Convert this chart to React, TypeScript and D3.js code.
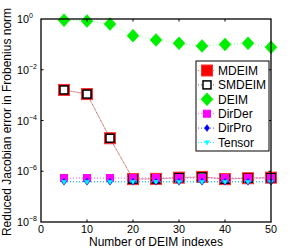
import React from "react";
import * as d3 from "d3";

const nIdx = [5, 10, 15, 20, 25, 30, 35, 40, 45, 50];
const mdeim = [1.6e-3, 1.1e-3, 2e-5, 4.9e-7, 5e-7, 5.6e-7, 6e-7, 4.9e-7, 5.3e-7, 5.6e-7];
const smdeim = [1.6e-3, 1.1e-3, 2e-5, 4.9e-7, 5e-7, 5.6e-7, 6e-7, 4.9e-7, 5.3e-7, 5.6e-7];
const deim = [0.9, 0.83, 0.63, 0.22, 0.15, 0.11, 0.087, 0.1, 0.11, 0.077];
const dirDer = [5.4e-7, 5.4e-7, 5.4e-7, 5.4e-7, 5.4e-7, 5.4e-7, 5.4e-7, 5.4e-7, 5.4e-7, 5.4e-7];
const dirPro = [3.9e-7, 3.9e-7, 3.9e-7, 3.9e-7, 3.9e-7, 3.9e-7, 3.9e-7, 3.9e-7, 3.9e-7, 3.9e-7];
const tensor = [3.8e-7, 3.8e-7, 3.8e-7, 3.8e-7, 3.8e-7, 3.8e-7, 3.8e-7, 3.8e-7, 3.8e-7, 3.8e-7];
const xTicks = [0, 10, 20, 30, 40, 50];
const yExps = [0, -2, -4, -6, -8];
const legendNames = ["MDEIM", "SMDEIM", "DEIM", "DirDer", "DirPro", "Tensor"];

const left = 41, right = 271, top = 19, bottom = 222;
const font = "Liberation Sans, Arial, sans-serif";

const x = d3.scaleLinear().domain([0, 50]).range([left, right]);
const y = d3.scaleLog().domain([1e-8, 1]).range([bottom, top]);

type Marker = (cx: number, cy: number, key: string | number) => React.ReactNode;

const square = (s: number, fill: string, stroke: string, sw: number): Marker => (cx, cy, key) => (
  <rect key={key} x={cx - s / 2} y={cy - s / 2} width={s} height={s} fill={fill} stroke={stroke} strokeWidth={sw} />
);
const diamond = (w: number, h: number, color: string): Marker => (cx, cy, key) => (
  <path key={key} d={`M${cx},${cy - h / 2}L${cx + w / 2},${cy}L${cx},${cy + h / 2}L${cx - w / 2},${cy}Z`} fill={color} stroke={color} strokeWidth={0.5} />
);
const triDown = (s: number, color: string): Marker => (cx, cy, key) => (
  <path key={key} d={`M${cx - s / 2},${cy - s / 3}L${cx + s / 2},${cy - s / 3}L${cx},${cy + s / 2}Z`} fill={color} stroke={color} strokeWidth={0.5} />
);

const series = [
  { name: legendNames[0], vals: mdeim, line: "#ff5050", dash: "1,2", off: 0, marker: square(11, "#ff0000", "#ff3030", 1) },
  { name: legendNames[1], vals: smdeim, line: "#704040", dash: "1,2", off: 1.5, marker: square(8, "#ffffff", "#000000", 1.5) },
  { name: legendNames[2], vals: deim, line: "#80ff80", dash: "1,2", off: 0, marker: diamond(12, 13, "#00ee00") },
  { name: legendNames[3], vals: dirDer, line: "#ff40ff", dash: "1,2", off: 0, marker: square(7, "#ff00ff", "#ff00ff", 1) },
  { name: legendNames[4], vals: dirPro, line: "#4040ff", dash: "1,2", off: 0, marker: diamond(5, 7, "#0000ff") },
  { name: legendNames[5], vals: tensor, line: "#00ffff", dash: "1,2", off: 0, marker: triDown(5, "#00ffff") },
];

const line = d3
  .line<number>()
  .x((_, i) => x(nIdx[i]))
  .y((d) => y(d));

const App = () => {
  const lx = 196, ly = 61, lw = 73, lh = 90;
  return (
    <svg width={300} height={250} style={{ position: "absolute", left: 0, top: 0, background: "#fff" }} fontFamily={font}>
      {series.map((s) => (
        <g key={s.name}>
          <path d={line(s.vals) || ""} fill="none" stroke={s.line} strokeWidth={0.9} strokeDasharray={s.dash} strokeDashoffset={s.off} />
          {s.vals.map((v, i) => s.marker(x(nIdx[i]), y(v), i))}
        </g>
      ))}
      <rect x={left} y={top} width={right - left} height={bottom - top} fill="none" stroke="#000" strokeWidth={1.3} />
      {/* x ticks */}
      {xTicks.map((t) => (
        <g key={t}>
          {t > 0 && t < 50 && (
            <>
              <line x1={x(t)} x2={x(t)} y1={bottom} y2={bottom - 2.5} stroke="#000" strokeWidth={1} />
              <line x1={x(t)} x2={x(t)} y1={top} y2={top + 2.5} stroke="#000" strokeWidth={1} />
            </>
          )}
          <text x={x(t)} y={233} fontSize={10.8} textAnchor="middle" fill="#000">{t}</text>
        </g>
      ))}
      {/* y ticks */}
      {yExps.map((e) => (
        <g key={e}>
          {e !== 0 && e !== -8 && (
            <>
              <line x1={left} x2={left + 2.5} y1={y(Math.pow(10, e))} y2={y(Math.pow(10, e))} stroke="#000" strokeWidth={1} />
              <line x1={right} x2={right - 2.5} y1={y(Math.pow(10, e))} y2={y(Math.pow(10, e))} stroke="#000" strokeWidth={1} />
            </>
          )}
          <text x={17} y={y(Math.pow(10, e)) + 4} fontSize={10.8} fill="#000">
            10
            <tspan dy={-5} fontSize={7}>{e === 0 ? "0" : "\u2212" + Math.abs(e)}</tspan>
          </text>
        </g>
      ))}
      <text x={(left + right) / 2} y={246} fontSize={12} textAnchor="middle" fill="#000">Number of DEIM indexes</text>
      <text transform="translate(11,122) rotate(-90)" fontSize={12} textAnchor="middle" fill="#000">
        Reduced Jacobian error in Frobenius norm
      </text>
      {/* legend */}
      <rect x={lx} y={ly} width={lw} height={lh} fill="#fff" stroke="#000" strokeWidth={1} />
      {series.map((s, i) => {
        const cy = ly + 9.5 + i * 14.4;
        return (
          <g key={s.name}>
            <line x1={lx + 2} x2={lx + 20} y1={cy} y2={cy} stroke={s.line} strokeWidth={0.9} strokeDasharray={s.dash} />
            {s.marker(lx + 11, cy, "m")}
            <text x={lx + 22} y={cy + 4.3} fontSize={12} fill="#000">{s.name}</text>
          </g>
        );
      })}
    </svg>
  );
};

export default App;
